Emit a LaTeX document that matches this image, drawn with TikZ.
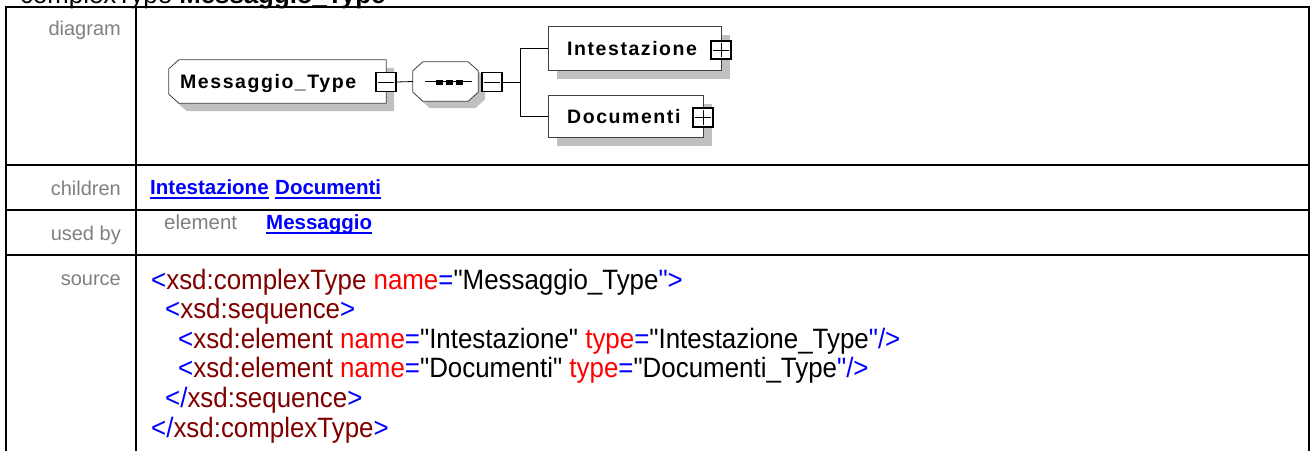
\documentclass[tikz,border=0pt]{standalone}
\usepackage{fontspec}
\setmainfont{Liberation Sans}
\newfontfamily\srcfont[FakeStretch=0.925]{Liberation Sans}
\newfontfamily\boxfont[LetterSpace=8]{Liberation Sans}
\usetikzlibrary{calc}
\definecolor{lblgrey}{RGB}{128,128,128}
\definecolor{linkblue}{RGB}{0,0,255}
\definecolor{tagred}{RGB}{128,0,0}
\definecolor{attrred}{RGB}{255,0,0}
\definecolor{shadowgrey}{RGB}{192,192,192}
\definecolor{boxline}{RGB}{64,64,64}
\newcommand\srcB[1]{\textcolor{linkblue}{#1}}
\newcommand\srcT[1]{\textcolor{tagred}{#1}}
\newcommand\srcA[1]{\textcolor{attrred}{#1}}
\begin{document}
\begin{tikzpicture}[x=1pt,y=-1pt,
  tbl/.style={line width=2pt, line cap=rect},
  lbl/.style={anchor=base east, inner sep=0pt, text=lblgrey, font=\fontsize{20}{24}\selectfont},
  link/.style={anchor=base west, inner sep=0pt, text=linkblue, font=\fontsize{20.5}{24}\selectfont\bfseries},
  uline/.style={draw=linkblue, line width=1.8pt},
  src/.style={anchor=base west, inner sep=0pt, font=\srcfont\fontsize{28}{30}\selectfont},
  elbox/.style={draw=boxline, fill=white, line width=0.8pt, inner sep=0pt},
  shade/.style={fill=shadowgrey, draw=none, inner sep=0pt},
  holder/.style={draw=none, inner sep=0pt, rectangle},
  btn/.style={draw=black, fill=white, line width=1.5pt, minimum width=20pt, minimum height=19pt, inner sep=0pt},
  sign/.style={line width=0.8pt},
  conn/.style={line width=0.8pt},
  boxtext/.style={anchor=base west, inner sep=0pt, font=\boxfont\fontsize{19.5}{23}\selectfont\bfseries},
  recshape/.style={rectangle, inner sep=0pt}
]
\useasboundingbox (0,0) rectangle (1311,450);
\clip (0,0) rectangle (1311,450);

% title (clipped at top, as in the reference)
\node[anchor=base west, inner sep=0pt, font=\fontsize{25.8}{30}\selectfont] (title) at (20,3) {complexType \textbf{Messaggio\_Type}};

% table
\draw[tbl] (6,7) -- (1309,7);
\draw[tbl] (6,165) -- (1309,165);
\draw[tbl] (6,210) -- (1309,210);
\draw[tbl] (6,255) -- (1309,255);
\draw[tbl] (6,7) -- (6,452);
\draw[tbl] (136,7) -- (136,452);
\draw[tbl] (1309,7) -- (1309,452);

% row labels
\node[lbl] (ldiag) at (121,35) {diagram};
\node[lbl] (lchild) at (121,195) {children};
\node[lbl] (lused) at (121,240) {used by};
\node[lbl] (lsrc) at (121,285) {source};

% children
\node[link] (cI) at (150,194) {Intestazione};
\node[link] (cD) at (275,194) {Documenti};
\draw[uline] ([yshift=-4pt]cI.base west) -- ([yshift=-4pt]cI.base east);
\draw[uline] ([yshift=-4pt]cD.base west) -- ([yshift=-4pt]cD.base east);

% used by
\node[anchor=base west, inner sep=0pt, text=lblgrey, font=\fontsize{20.5}{24}\selectfont] (uel) at (164,229) {element};
\node[link] (uM) at (266,229) {Messaggio};
\draw[uline] ([yshift=-4pt]uM.base west) -- ([yshift=-4pt]uM.base east);

% source
\node[src] (s1) at (151,289) {\srcB{<}\srcT{xsd:complexType} \srcA{name}\srcB{=}"Messaggio\_Type\srcB{">}};
\node[src] (s2) at (165,318.6) {\srcB{<}\srcT{xsd:sequence}\srcB{>}};
\node[src] (s3) at (178,348.2) {\srcB{<}\srcT{xsd:element} \srcA{name}\srcB{=}"Intestazione" \srcA{type}\srcB{=}"Intestazione\_Type\srcB{"/>}};
\node[src] (s4) at (178,377.8) {\srcB{<}\srcT{xsd:element} \srcA{name}\srcB{=}"Documenti" \srcA{type}\srcB{=}"Documenti\_Type\srcB{"/>}};
\node[src] (s5) at (165,407.4) {\srcB{</}\srcT{xsd:sequence}\srcB{>}};
\node[src] (s6) at (151,437) {\srcB{</}\srcT{xsd:complexType}\srcB{>}};

% diagram: placeholders (named) for the shapes
\node[holder, minimum width=217pt, minimum height=43pt] (msg) at (277.5,81.5) {};
\node[holder, minimum width=65pt, minimum height=39pt] (seq) at (445.5,81.5) {};
\coordinate (fork) at (520,82);

% shadows
\fill[shadowgrey] ($(msg.north west)+(18,8)$) -- ($(msg.north east)+(8,8)$) -- ($(msg.south east)+(8,8)$)
  -- ($(msg.south west)+(18,8)$) -- ($(msg.south west)+(8,-1)$) -- ($(msg.north west)+(8,17)$) -- cycle;
\fill[shadowgrey] ($(seq.north west)+(17,7)$) -- ($(seq.north east)+(-3,7)$) -- ($(seq.north east)+(7,16)$)
  -- ($(seq.south east)+(7,-2)$) -- ($(seq.south east)+(-3,7)$) -- ($(seq.south west)+(17,7)$)
  -- ($(seq.south west)+(7,-2)$) -- ($(seq.north west)+(7,16)$) -- cycle;
\node[recshape, shade, minimum width=173pt, minimum height=44pt] (intsh) at (643.5,57) {};
\node[recshape, shade, minimum width=155pt, minimum height=42pt] (docsh) at (634.5,125) {};

% main shapes
\draw[elbox] ($(msg.north west)+(10,0)$) -- (msg.north east) -- (msg.south east)
  -- ($(msg.south west)+(10,0)$) -- ($(msg.south west)+(0,-9)$) -- ($(msg.north west)+(0,9)$) -- cycle;
\draw[elbox] ($(seq.north west)+(10,0)$) -- ($(seq.north east)+(-10,0)$) -- ($(seq.north east)+(0,9)$)
  -- ($(seq.south east)+(0,-9)$) -- ($(seq.south east)+(-10,0)$) -- ($(seq.south west)+(10,0)$)
  -- ($(seq.south west)+(0,-9)$) -- ($(seq.north west)+(0,9)$) -- cycle;
\node[recshape, elbox, minimum width=173pt, minimum height=44pt] (int) at (634.5,48) {};
\node[recshape, elbox, minimum width=155pt, minimum height=42pt] (doc) at (625.5,116) {};

\node[boxtext] (msgt) at (180,88.5) {Messaggio\_Type};
\node[boxtext] (intt) at (567,55.5) {Intestazione};
\node[boxtext] (doct) at (567,123.5) {Documenti};

% sequence glyph
\draw[conn] ([xshift=12pt]seq.west) -- ([xshift=-6pt]seq.east);
\fill (436,79.5) rectangle (443,84.5);
\fill (446,79.5) rectangle (453,84.5);
\fill (456,79.5) rectangle (463,84.5);

% buttons
\node[btn] (msgbtn) at (386,82) {};
\draw[sign] ([xshift=3pt]msgbtn.west) -- ([xshift=-3pt]msgbtn.east);
\node[btn] (seqbtn) at (492,82) {};
\draw[sign] ([xshift=3pt]seqbtn.west) -- ([xshift=-3pt]seqbtn.east);
\node[btn, minimum height=18pt] (intbtn) at (721,50) {};
\draw[sign] ([xshift=3pt]intbtn.west) -- ([xshift=-3pt]intbtn.east)
            ([yshift=-3pt]intbtn.north) -- ([yshift=3pt]intbtn.south);
\node[btn] (docbtn) at (703,117.5) {};
\draw[sign] ([xshift=3pt]docbtn.west) -- ([xshift=-3pt]docbtn.east)
            ([yshift=-3pt]docbtn.north) -- ([yshift=3pt]docbtn.south);

% connectors
\draw[conn] (msgbtn.east) -- (seq.west);
\draw[conn] (seqbtn.east) -- (fork);
\draw[conn] (fork) |- (int.west);
\draw[conn] (fork) |- (doc.west);
\end{tikzpicture}
\end{document}
